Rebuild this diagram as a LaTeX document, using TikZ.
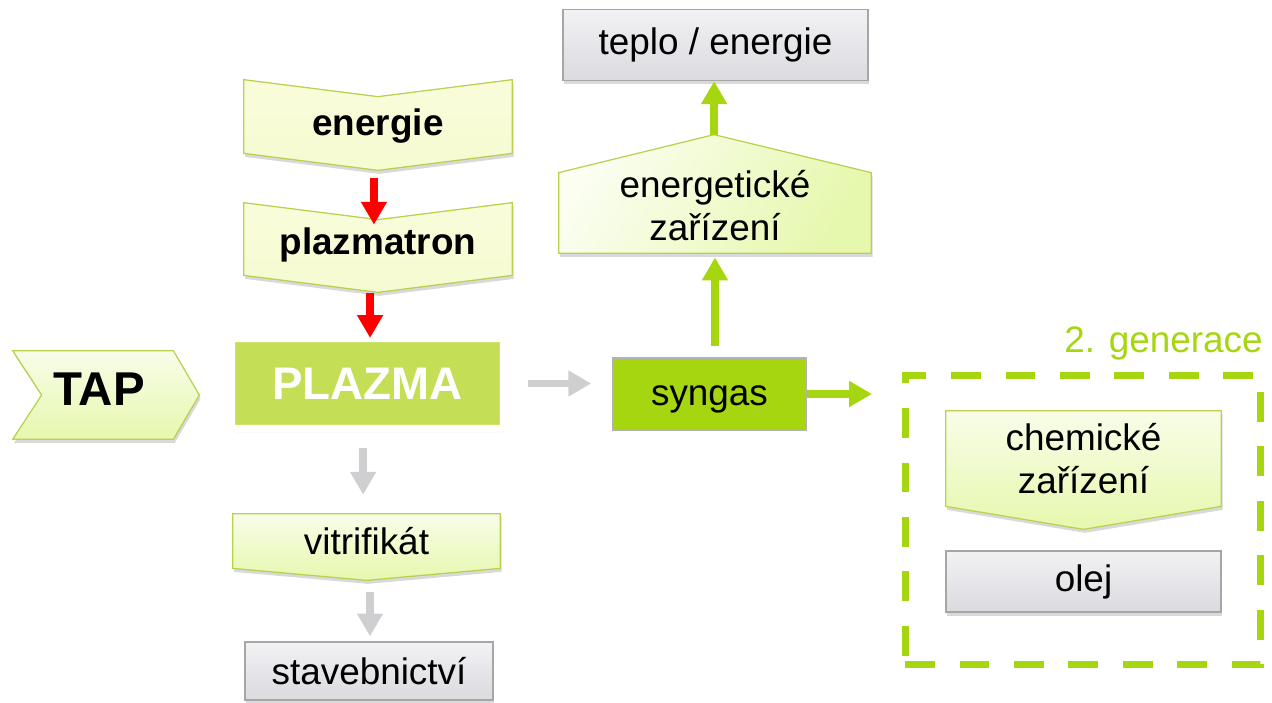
\documentclass[tikz,border=0pt]{standalone}
\usepackage{fontspec}
\setmainfont{Liberation Sans}
\usetikzlibrary{arrows.meta,calc,shadows,backgrounds}
\definecolor{limegreen}{HTML}{A6D60F}
\definecolor{plazmagreen}{HTML}{C4DF55}
\definecolor{paleyellow}{HTML}{FAFCDA}
\definecolor{palegreen}{HTML}{E6F8AE}
\definecolor{paletop}{HTML}{F8FDE8}
\definecolor{chevline}{HTML}{B9D24E}
\definecolor{boxgraytop}{HTML}{F2F2F5}
\definecolor{boxgraybot}{HTML}{DADADF}
\definecolor{arrowgray}{HTML}{CFCFD1}
\definecolor{arrowred}{HTML}{FF0000}
\newcommand{\lowertext}[2]{\raisebox{-#1}[\height][\depth]{#2}}
\tikzset{
  txt/.style={font=\fontsize{21}{24.5}\selectfont, align=center, inner sep=0pt},
  softshadow/.style={drop shadow={opacity=0.3, shadow xshift=0.8pt, shadow yshift=-2pt}},
  graybox/.style={txt, draw=gray!70, line width=0.8pt, top color=boxgraytop, bottom color=boxgraybot, softshadow},
  chevbg/.style={draw=chevline, line width=0.7pt, top color=paletop, bottom color=palegreen, softshadow},
  yellowbg/.style={chevbg, top color=paleyellow, bottom color=paleyellow!80!palegreen},
  fat/.style={line width=4.5pt, -{Triangle[width=14pt,length=13pt]}},
  redarrow/.style={fat, draw=arrowred, fill=arrowred},
  grayarrow/.style={fat, draw=arrowgray, fill=arrowgray},
  greenarrow/.style={fat, draw=limegreen, fill=limegreen}
}
\begin{document}
\begin{tikzpicture}[x=0.02cm, y=-0.02cm]
  \useasboundingbox (0,0) rectangle (1272,703);

  \node[graybox, minimum width=6.1cm, minimum height=1.42cm] (teplo) at (715.5,45) {teplo / energie};
  \node[txt, minimum width=6.24cm, minimum height=1.6cm] (energ) at (715,206) {energetické\\zařízení};
  \node[txt, draw=gray!60, line width=0.8pt, fill=limegreen, minimum width=3.86cm, minimum height=1.44cm] (syngas) at (709.5,394) {\lowertext{2.8pt}{syngas}};

  \node[txt, minimum width=5.36cm, minimum height=1.46cm] (energie) at (378,116.5) {\lowertext{5.7pt}{\bfseries energie}};
  \node[txt, minimum width=5.36cm, minimum height=1.44cm] (plazmatron) at (378,239) {\lowertext{3.4pt}{\bfseries plazmatron}};
  \node[txt, minimum width=3.2cm, minimum height=1.76cm, font=\bfseries\fontsize{27}{30}\selectfont] (tap) at (93,395) {\lowertext{-3.4pt}{\hspace*{6.8pt}TAP}};
  \node[txt, draw=white, line width=4pt, fill=plazmagreen, rounded corners=1.5pt, softshadow,
        minimum width=5.44cm, minimum height=1.8cm, text=white,
        font=\bfseries\fontsize{26}{30}\selectfont] (plazma) at (367.5,383.5) {PLAZMA};
  \node[txt, minimum width=5.34cm, minimum height=1.08cm] (vitrif) at (366.5,541) {vitrifikát};
  \node[graybox, minimum width=4.96cm, minimum height=1.16cm] (staveb) at (369,671) {stavebnictví};

  \node[draw=limegreen, line width=4pt, dash pattern=on 17pt off 14pt, minimum width=7.12cm, minimum height=5.8cm] (gen2) at (1083,520) {};
  \node[txt, text=limegreen, anchor=base east] (gen2label) at (1263,352) {2. generace};
  \node[txt, minimum width=5.5cm, minimum height=1.9cm] (chem) at (1083.5,458.5) {chemické\\zařízení};
  \node[graybox, minimum width=5.5cm, minimum height=1.22cm] (olej) at (1083.5,581.5) {olej};

  \begin{scope}[on background layer]
    \filldraw[yellowbg] (energie.north west) -- ($(energie.north)+(0,17)$) -- (energie.north east) -- (energie.south east) -- ($(energie.south)+(0,17)$) -- (energie.south west) -- cycle;
    \filldraw[yellowbg] (plazmatron.north west) -- ($(plazmatron.north)+(0,17)$) -- (plazmatron.north east) -- (plazmatron.south east) -- ($(plazmatron.south)+(0,17)$) -- (plazmatron.south west) -- cycle;
    \filldraw[chevbg] (tap.north west) -- ($(tap.west)+(29,0)$) -- (tap.south west) -- (tap.south east) -- ($(tap.east)+(26,0)$) -- (tap.north east) -- cycle;
    \filldraw[chevbg] (vitrif.north west) -- (vitrif.north east) -- (vitrif.south east) -- ($(vitrif.south)+(0,12)$) -- (vitrif.south west) -- cycle;
    \filldraw[chevbg, top color=paletop!60!white, bottom color=palegreen, shading angle=60] ($(energ.south west)+(0,7)$) -- ($(energ.north west)+(0,7)$) -- ($(energ.north)+(-1,-31)$) -- ($(energ.north east)+(0,7)$) -- ($(energ.south east)+(0,7)$) -- cycle;
    \filldraw[chevbg] (chem.north west) -- (chem.north east) -- (chem.south east) -- ($(chem.south)+(0,23)$) -- (chem.south west) -- cycle;
  \end{scope}

  \draw[redarrow, shorten <=14pt, shorten >=-12.5pt] ([xshift=-2.3pt]energie.south) -- ([xshift=-2.3pt]plazmatron.north);
  \draw[redarrow, shorten <=10pt, shorten >=-1.7pt] ([xshift=-4.5pt]plazmatron.south) -- ([xshift=-4.5pt]plazmatron.south |- plazma.north);
  \draw[grayarrow, shorten <=9pt, shorten >=10.8pt] ([xshift=-2.5pt]plazma.south) -- ([xshift=-2.5pt]plazma.south |- vitrif.north);
  \draw[grayarrow, shorten <=13.7pt, shorten >=2.8pt] ([xshift=2pt]vitrif.south) -- ([xshift=2pt]vitrif.south |- staveb.north);
  \draw[grayarrow, shorten <=12pt, shorten >=12pt] (plazma.east) -- (plazma.east -| syngas.west);
  \draw[greenarrow, shorten <=6.3pt, shorten >=6.3pt] (energ.south |- syngas.north) -- (energ.south);
  \draw[greenarrow, shorten <=17.6pt] ([xshift=-0.5pt]energ.north) -- ([xshift=-0.5pt]energ.north |- teplo.south);
  \draw[greenarrow, shorten >=16.8pt] (syngas.east) -- (syngas.east -| gen2.west);
\end{tikzpicture}
\end{document}
